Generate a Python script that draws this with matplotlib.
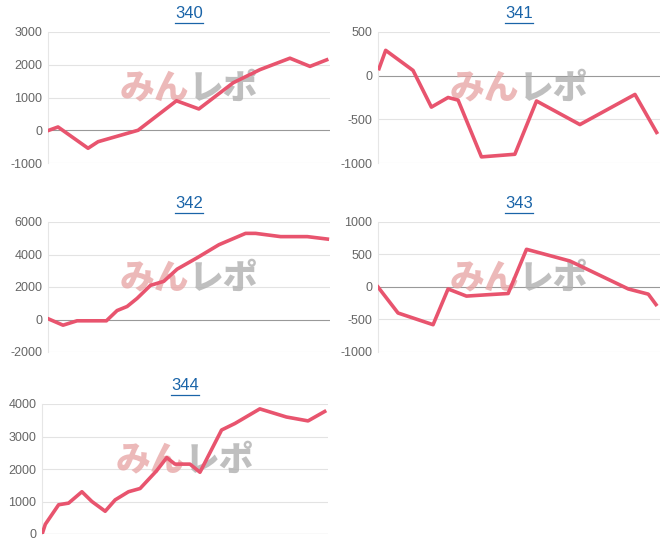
import matplotlib
matplotlib.use("Agg")
import matplotlib.pyplot as plt
from matplotlib.lines import Line2D

plt.rcParams['font.family'] = ['Liberation Sans', 'DejaVu Sans']
plt.rcParams['axes.unicode_minus'] = False

titles = ["340", "341", "342", "343", "344"]

x340 = [3, 30, 120, 150, 270, 385, 452, 555, 635, 725, 785, 835]
y340 = [0, 100, -550, -350, 0, 900, 650, 1450, 1850, 2200, 1950, 2150]

x341 = [3, 23, 105, 160, 210, 240, 310, 410, 475, 605, 770, 835]
y341 = [80, 290, 60, -360, -250, -280, -930, -900, -290, -560, -215, -650]

x342 = [0, 45, 87, 175, 207, 237, 267, 307, 347, 387, 447, 512, 592, 622, 697, 777, 837]
y342 = [50, -350, -80, -80, 550, 800, 1300, 2100, 2350, 3100, 3800, 4600, 5300, 5300, 5100, 5100, 4950]

x343 = [0, 60, 165, 210, 265, 325, 390, 445, 575, 750, 810, 833]
y343 = [0, -400, -580, -30, -140, -120, -100, 580, 400, -30, -110, -270]

x344 = [2, 10, 50, 80, 120, 150, 190, 220, 260, 295, 345, 375, 400, 445, 475, 540, 580, 655, 735, 800, 850]
y344 = [50, 300, 900, 950, 1300, 1000, 700, 1050, 1300, 1400, 1950, 2350, 2150, 2150, 1900, 3200, 3400, 3850, 3600, 3480, 3770]

xs = [x340, x341, x342, x343, x344]
ys = [y340, y341, y342, y343, y344]
xmax = [845, 845, 845, 845, 860]
ylims = [(-1000, 3000), (-1000, 500), (-2000, 6000), (-1000, 1000), (0, 4000)]
ticks = [[-1000, 0, 1000, 2000, 3000], [-1000, -500, 0, 500],
         [-2000, 0, 2000, 4000, 6000], [-1000, -500, 0, 500, 1000],
         [0, 1000, 2000, 3000, 4000]]

W, H = 667, 555
boxes = [(48, 330, 32, 163), (378, 660, 32, 163), (48, 330, 222, 352),
         (378, 660, 222, 352), (42, 328, 404, 534)]

fig = plt.figure(figsize=(W / 100, H / 100), dpi=100)
fig.patch.set_facecolor("white")
for i in range(5):
    l, r, t, b = boxes[i]
    ax = fig.add_axes([l / W, 1 - b / H, (r - l) / W, (b - t) / H])
    ax.set_xlim(0, xmax[i])
    ax.set_ylim(*ylims[i])
    ax.set_yticks(ticks[i])
    ax.set_xticks([])
    for s in ["top", "right", "bottom"]:
        ax.spines[s].set_visible(False)
    ax.spines["left"].set_color("#e6e6e6")
    ax.tick_params(axis="y", length=0, labelsize=9, labelcolor="#666666", pad=4)
    for tv in ticks[i]:
        ax.axhline(tv, color="#999999" if tv == 0 else "#e3e3e3", lw=0.8, zorder=1)
    ax.text(0.5, 0.57, "みん", transform=ax.transAxes, ha="right", va="center",
            fontsize=25, fontweight="black", color="#e8a8a8", alpha=0.8,
            family=["Noto Sans CJK JP"], zorder=2)
    ax.text(0.5, 0.57, "レポ", transform=ax.transAxes, ha="left", va="center",
            fontsize=25, fontweight="black", color="#b0b0b0", alpha=0.8,
            family=["Noto Sans CJK JP"], zorder=2)
    ax.plot(xs[i], ys[i], color="#e8546e", lw=2.6, zorder=3, solid_joinstyle="round")
    cx = (l + r) / 2 / W
    ty = 1 - (t - 18) / H
    txt = fig.text(cx, ty, titles[i], ha="center", va="center", fontsize=12, color="#1a64a8")
    fig.canvas.draw()
    bb = txt.get_window_extent()
    y0 = bb.y0 / H - 1.0 / H
    fig.add_artist(Line2D([bb.x0 / W, bb.x1 / W], [y0, y0], color="#1a64a8", lw=0.9))

fig.savefig("out.png", dpi=100, facecolor="white")
